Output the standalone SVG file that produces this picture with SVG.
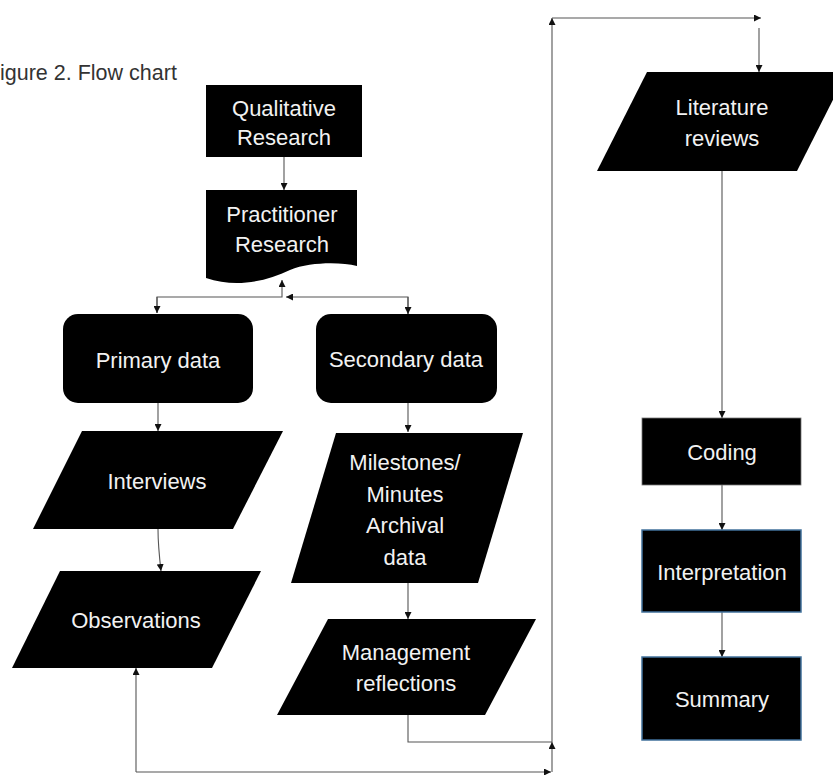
<svg xmlns="http://www.w3.org/2000/svg" width="833" height="775" viewBox="0 0 833 775">
<defs>
<style>
.n{fill:#000}
.bl{stroke:#41719c;stroke-width:1.5}
.t{font-family:"Liberation Sans",Arial,sans-serif;font-size:22px;fill:#f2f2f2;text-anchor:middle}
.title{font-family:"Liberation Sans",Arial,sans-serif;font-size:21.5px;fill:#333}
.c{fill:none;stroke:#555;stroke-width:1.1}
</style>
<marker id="a" viewBox="0 0 10 10" refX="10" refY="5" markerWidth="7" markerHeight="7" markerUnits="userSpaceOnUse" orient="auto">
<path d="M0,0 L10,5 L0,10 Z" fill="#111"/>
</marker>
</defs>
<rect width="833" height="775" fill="#fff"/>
<text class="title" x="0" y="80">igure 2. Flow chart</text>

<g id="connectors">
<path class="c" d="M284,157 V190" marker-end="url(#a)"/>
<path class="c" d="M157,313 V297 H282 V280" marker-end="url(#a)"/>
<path class="c" d="M157,297 V313" marker-end="url(#a)"/>
<path class="c" d="M408,314 V297 H286" marker-end="url(#a)"/>
<path class="c" d="M408,297 V314" marker-end="url(#a)"/>
<path class="c" d="M158,403 V431" marker-end="url(#a)"/>
<path class="c" d="M158,529 Q158,545 161,571" marker-end="url(#a)"/>
<path class="c" d="M408,403 V432" marker-end="url(#a)"/>
<path class="c" d="M408,583 V619" marker-end="url(#a)"/>
<path class="c" d="M408,715 V742 H552"/>
<path class="c" d="M552,772 V742" marker-end="url(#a)"/>
<path class="c" d="M136,772 V668" marker-end="url(#a)"/>
<path class="c" d="M136,772 H551" marker-end="url(#a)"/>
<path class="c" d="M552,742 V18" marker-end="url(#a)"/>
<path class="c" d="M552,18 H761" marker-end="url(#a)"/>
<path class="c" d="M759,28 V72" marker-end="url(#a)"/>
<path class="c" d="M722,171 V418" marker-end="url(#a)"/>
<path class="c" d="M722,485 V530" marker-end="url(#a)"/>
<path class="c" d="M722,612 V657" marker-end="url(#a)"/>
</g>

<g id="qualitative">
<rect class="n" x="206" y="85" width="156" height="72"/>
<text class="t" x="284" y="116">Qualitative</text>
<text class="t" x="284" y="145">Research</text>
</g>
<g id="practitioner">
<path class="n" d="M206,190 H357 V266 C340,262 310,262 290,270 C265,282 235,288 206,278 Z"/>
<text class="t" x="282" y="222">Practitioner</text>
<text class="t" x="282" y="252">Research</text>
</g>
<g id="primary">
<rect class="n" x="63" y="314" width="190" height="89" rx="15"/>
<text class="t" x="158" y="368">Primary data</text>
</g>
<g id="secondary">
<rect class="n" x="316" y="314" width="181" height="89" rx="15"/>
<text class="t" x="406" y="367">Secondary data</text>
</g>
<g id="interviews">
<polygon class="n" points="82,431 283,431 233,529 33,529"/>
<text class="t" x="157" y="489">Interviews</text>
</g>
<g id="observations">
<polygon class="n" points="60,571 261,571 212,668 12,668"/>
<text class="t" x="136" y="628">Observations</text>
</g>
<g id="milestones">
<polygon class="n" points="336,433 523,433 478,583 291,583"/>
<text class="t" x="405" y="470">Milestones/</text>
<text class="t" x="405" y="502">Minutes</text>
<text class="t" x="405" y="533">Archival</text>
<text class="t" x="405" y="565">data</text>
</g>
<g id="management">
<polygon class="n" points="328,619 536,619 485,715 277,715"/>
<text class="t" x="406" y="660">Management</text>
<text class="t" x="406" y="691">reflections</text>
</g>
<g id="literature">
<polygon class="n" points="647,72 847,72 797,171 597,171"/>
<text class="t" x="722" y="115">Literature</text>
<text class="t" x="722" y="146">reviews</text>
</g>
<g id="coding">
<rect class="n" x="642" y="418" width="159" height="67" stroke="#777" stroke-width="0.8"/>
<text class="t" x="722" y="460">Coding</text>
</g>
<g id="interpretation">
<rect class="n bl" x="642" y="530" width="159" height="82"/>
<text class="t" x="722" y="580">Interpretation</text>
</g>
<g id="summary">
<rect class="n bl" x="642" y="657" width="159" height="83"/>
<text class="t" x="722" y="707">Summary</text>
</g>
</svg>
